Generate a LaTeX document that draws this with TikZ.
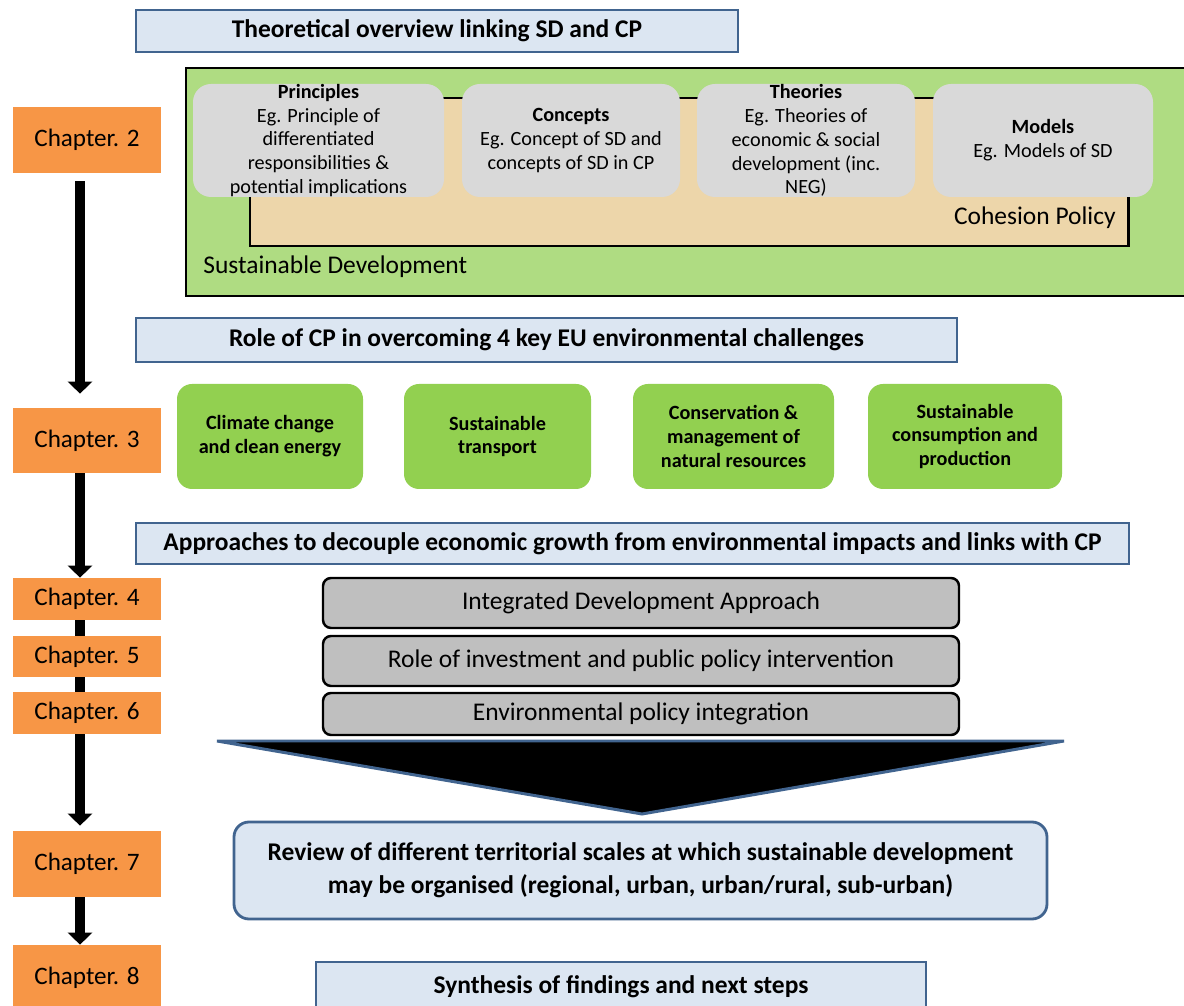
\documentclass[tikz,border=0pt]{standalone}
\usepackage{fontspec}
\setmainfont{Carlito}
\usetikzlibrary{arrows.meta}

\definecolor{chaporange}{HTML}{F79646}
\definecolor{titlefill}{HTML}{DCE6F2}
\definecolor{titleline}{HTML}{41648F}
\definecolor{sdgreen}{HTML}{AFDC82}
\definecolor{cpbeige}{HTML}{EDD6AA}
\definecolor{lightgrey}{HTML}{D9D9D9}
\definecolor{keygreen}{HTML}{92D050}
\definecolor{stackgrey}{HTML}{BFBFBF}

\begin{document}
\begin{tikzpicture}[x=0.02cm, y=-0.02cm,
					chapter/.style={fill=chaporange, minimum width=148*0.02cm, font=\fontsize{14.3}{17}\selectfont},
					titlebox/.style={draw=titleline, line width=1.4pt, fill=titlefill, font=\bfseries\fontsize{14.5}{17}\selectfont},
					ideabox/.style={fill=lightgrey, rounded corners=0.36cm, inner ysep=-4pt, minimum height=113*0.02cm, align=center, font=\fontsize{11.5}{13.6}\selectfont},
					keybox/.style={fill=keygreen, rounded corners=0.3cm, minimum height=105*0.02cm, align=center, font=\bfseries\fontsize{11.5}{13.6}\selectfont},
					stackbox/.style={draw=black, line width=1.4pt, fill=stackgrey, rounded corners=0.16cm, minimum width=636*0.02cm, font=\fontsize{14.5}{17}\selectfont},
					bluebox/.style={draw=titleline, line width=1.6pt, fill=titlefill, align=center, font=\bfseries\fontsize{14.5}{17}\selectfont},
					chaparrow/.style={line width=10*0.02cm, -{Triangle[width=24*0.02cm, length=12*0.02cm]}},
					chapline/.style={line width=10*0.02cm}
				]
				% Parámetros
				\def\px{0.02cm}     % un píxel de la figura
				\def\dx{-7*0.02cm}  % desplazamiento de las flechas

				\useasboundingbox (0,0) rectangle (1184,1006);

				% --- Capítulos ---
				\node[chapter, minimum height=66*\px] (ch2) at (87,140) {Chapter. 2};
				\node[chapter, minimum height=65*\px] (ch3) at (87,440.5) {Chapter. 3};
				\node[chapter, minimum height=42*\px] (ch4) at (87,599) {Chapter. 4};
				\node[chapter, minimum height=41*\px] (ch5) at (87,656.5) {Chapter. 5};
				\node[chapter, minimum height=42*\px] (ch6) at (87,713) {Chapter. 6};
				\node[chapter, minimum height=66*\px] (ch7) at (87,864) {Chapter. 7};
				\node[chapter, minimum height=66*\px] (ch8) at (87,978) {Chapter. 8};

				% --- Flechas entre capítulos ---
				\draw[chaparrow, shorten <=8*\px, shorten >=14*\px] ([xshift=\dx]ch2.south) -- ([xshift=\dx]ch3.north);
				\draw[chaparrow] ([xshift=\dx]ch3.south) -- ([xshift=\dx]ch4.north);
				\draw[chapline] ([xshift=\dx]ch4.south) -- ([xshift=\dx]ch5.north);
				\draw[chapline] ([xshift=\dx]ch5.south) -- ([xshift=\dx]ch6.north);
				\draw[chaparrow, shorten >=5*\px] ([xshift=\dx]ch6.south) -- ([xshift=\dx]ch7.north);
				\draw[chaparrow] ([xshift=\dx]ch7.south) -- ([xshift=\dx]ch8.north);

				% --- Marco teórico ---
				\node[titlebox, minimum width=602*\px, minimum height=42*\px] (theory) at (437,31) {Theoretical overview linking SD and CP};
				\node[draw=black, line width=1.7pt, fill=sdgreen, minimum width=1009*\px, minimum height=228*\px] (sd) at (690.5,182) {};
				\node[draw=black, line width=1.7pt, fill=cpbeige, minimum width=878*\px, minimum height=148*\px] (cp) at (689,172) {};
				\node[anchor=west, inner sep=0pt, font=\fontsize{14.5}{17}\selectfont] (sdlabel) at (203,267) {Sustainable Development};
				\node[anchor=east, inner sep=0pt, font=\fontsize{14.5}{17}\selectfont] (cplabel) at (1116,218) {Cohesion Policy};

				\node[ideabox, minimum width=251*\px] (principles) at (318.5,140.5) {\textbf{Principles}\\Eg. Principle of\\differentiated\\responsibilities \&\\potential implications};
				\node[ideabox, minimum width=218*\px] (concepts) at (571,140.5) {\textbf{Concepts}\\Eg. Concept of SD and\\concepts of SD in CP};
				\node[ideabox, minimum width=218*\px] (theories) at (806,140.5) {\textbf{Theories}\\Eg. Theories of\\economic \& social\\development (inc.\\NEG)};
				\node[ideabox, minimum width=220*\px] (models) at (1043,140.5) {\textbf{Models}\\Eg. Models of SD};

				% --- Retos ambientales ---
				\node[titlebox, minimum width=821*\px, minimum height=44*\px] (role) at (546.5,340) {Role of CP in overcoming 4 key EU environmental challenges};
				\node[keybox, minimum width=186*\px] (climate) at (270,436.5) {Climate change\\and clean energy};
				\node[keybox, minimum width=187*\px] (transport) at (497.5,436.5) {Sustainable\\transport};
				\node[keybox, minimum width=201*\px] (resources) at (733.5,436.5) {Conservation \&\\management of\\natural resources};
				\node[keybox, minimum width=194*\px] (consumption) at (965,436.5) {Sustainable\\consumption and\\production};

				% --- Enfoques de desacoplamiento ---
				\node[titlebox, minimum width=993*\px, minimum height=41*\px] (decouple) at (632.5,543.5) {Approaches to decouple economic growth from environmental impacts and links with CP};
				\node[stackbox, minimum height=50*\px] (integrated) at (641,603) {Integrated Development Approach};
				\node[stackbox, minimum height=50*\px] (investment) at (641,661) {Role of investment and public policy intervention};
				\node[stackbox, minimum height=42*\px] (epi) at (641,714) {Environmental policy integration};

				% --- Embudo ---
				\draw[draw=titleline, line width=1.7pt, fill=black] (217,741) -- (1064,741) -- (642,814) -- cycle;

				% --- Escalas territoriales y síntesis ---
				\node[bluebox, rounded corners=0.3cm, minimum width=813*\px, minimum height=97*\px] (scales) at (640.5,870.5) {Review of different territorial scales at which sustainable development\\[2pt]may be organised (regional, urban, urban/rural, sub-urban)};
				\node[bluebox, minimum width=610*\px, minimum height=50*\px] (synthesis) at (621,987) {Synthesis of findings and next steps};

			\end{tikzpicture}
\end{document}
